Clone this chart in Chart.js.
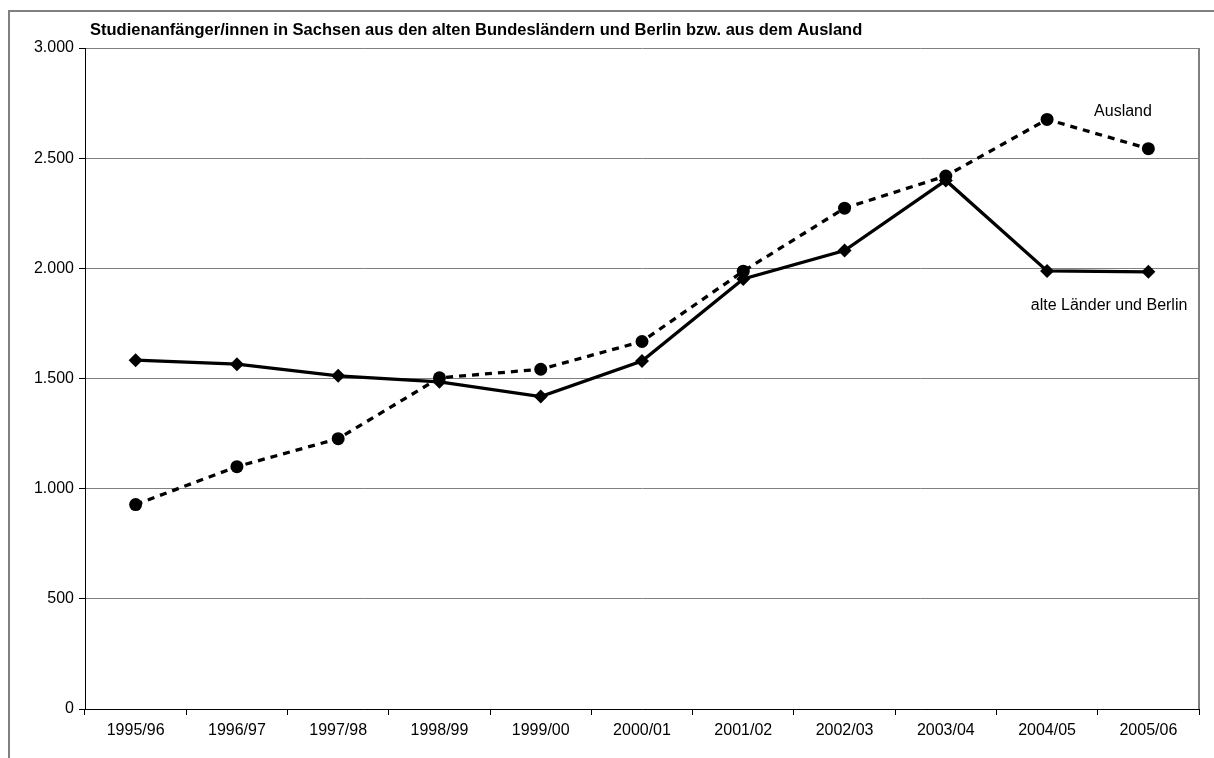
<!DOCTYPE html>
<html lang="de">
<head>
<meta charset="utf-8">
<title>Studienanfänger/innen in Sachsen</title>
<script src="https://cdn.jsdelivr.net/npm/chart.js@4.4.1/dist/chart.umd.min.js"></script>
<style>
  html, body { margin: 0; padding: 0; background: #ffffff; }
  #wrap { width: 1214px; height: 758px; position: relative; }
</style>
</head>
<body>
<div id="wrap"><canvas id="chart" width="1214" height="758"></canvas></div>
<script>
// Semester categories
const semesters = ['1995/96', '1996/97', '1997/98', '1998/99', '1999/00', '2000/01',
                   '2001/02', '2002/03', '2003/04', '2004/05', '2005/06'];

// First-year students from abroad
const ausland = [928, 1100, 1227, 1503, 1542, 1668, 1987, 2273, 2419, 2676, 2543];

// First-year students from the old federal states and Berlin
const alteLaender = [1583, 1565, 1512, 1485, 1418, 1579, 1952, 2081, 2399, 1988, 1984];

const chartTitle = 'Studienanfänger/innen in Sachsen aus den alten Bundesländern und Berlin bzw. aus dem Ausland';
const seriesNames = ['Ausland', 'alte Länder und Berlin'];

// Value axis range and step
const yMin = 0, yMax = 3000, yStep = 500;

const FONT = '"Liberation Sans", Arial, Helvetica, sans-serif';

// German thousands separator: 3000 -> "3.000"
function formatDe(v) {
  const n = Math.round(v);
  if (n < 1000) return String(n);
  const thousands = Math.floor(n / 1000);
  const rest = String(n % 1000).padStart(3, '0');
  return thousands + '.' + rest;
}

// Outer frame, plot border, heading and series labels
const decorations = {
  id: 'decorations',
  beforeDraw(chart) {
    const ctx = chart.ctx;
    ctx.save();
    ctx.fillStyle = '#ffffff';
    ctx.fillRect(0, 0, chart.width, chart.height);
    ctx.strokeStyle = '#808080';
    ctx.lineWidth = 2;
    ctx.strokeRect(9, 11, chart.width + 20, chart.height + 20);
    ctx.restore();
  },
  afterDatasetsDraw(chart) {
    const ctx = chart.ctx;
    const area = chart.chartArea;
    const xs = chart.scales.x, ys = chart.scales.y;
    ctx.save();
    // right plot border
    ctx.strokeStyle = '#808080';
    ctx.lineWidth = 2;
    ctx.beginPath();
    ctx.moveTo(area.right, area.top);
    ctx.lineTo(area.right, area.bottom);
    ctx.stroke();

    // heading
    ctx.fillStyle = '#000000';
    ctx.font = 'bold 16.5px ' + FONT;
    ctx.textAlign = 'left';
    ctx.textBaseline = 'middle';
    ctx.fillText(chartTitle, area.left + 5, 30);

    // series labels placed next to the last points
    ctx.font = '16px ' + FONT;
    ctx.textAlign = 'left';
    ctx.fillText(seriesNames[0], xs.getPixelForValue(9) + 47, ys.getPixelForValue(2711));
    ctx.textAlign = 'center';
    ctx.fillText(seriesNames[1], xs.getPixelForValue(9) + 62, ys.getPixelForValue(1829));
    ctx.restore();
  }
};

new Chart(document.getElementById('chart'), {
  type: 'line',
  data: {
    labels: semesters,
    datasets: [
      {
        label: seriesNames[0],
        data: ausland,
        order: 0,
        borderColor: '#000000',
        backgroundColor: '#000000',
        borderWidth: 3.3,
        borderDash: [7, 6],
        pointStyle: 'circle',
        pointRadius: 6.5,
        pointBorderWidth: 0,
        pointBackgroundColor: '#000000',
        tension: 0,
        fill: false
      },
      {
        label: seriesNames[1],
        data: alteLaender,
        order: 1,
        borderColor: '#000000',
        backgroundColor: '#000000',
        borderWidth: 3.3,
        pointStyle: 'rectRot',
        pointRadius: 7,
        pointBorderWidth: 0,
        pointBackgroundColor: '#000000',
        tension: 0,
        fill: false
      }
    ]
  },
  options: {
    responsive: false,
    maintainAspectRatio: false,
    devicePixelRatio: 1,
    animation: false,
    layout: { padding: { left: 0, top: 48, right: 15, bottom: 9 } },
    plugins: {
      legend: { display: false },
      title: { display: false },
      tooltip: { enabled: false }
    },
    scales: {
      x: {
        type: 'category',
        offset: true,
        grid: {
          offset: true,
          drawOnChartArea: false,
          drawTicks: true,
          tickLength: 6,
          tickColor: '#000000'
        },
        border: { display: true, color: '#000000', width: 1 },
        ticks: {
          color: '#000000',
          font: { family: FONT, size: 16 },
          padding: 6,
          maxRotation: 0,
          autoSkip: false
        },
        afterFit(scale) { scale.height = 40; }
      },
      y: {
        min: yMin,
        max: yMax,
        grid: {
          color: '#808080',
          lineWidth: 1,
          drawTicks: true,
          tickLength: 6,
          tickColor: '#000000'
        },
        border: { display: true, color: '#000000', width: 1 },
        ticks: {
          stepSize: yStep,
          color: '#000000',
          font: { family: FONT, size: 16 },
          padding: 5,
          callback: (v) => formatDe(v)
        },
        afterFit(scale) { scale.width = 85; }
      }
    }
  },
  plugins: [decorations]
});
</script>
</body>
</html>
